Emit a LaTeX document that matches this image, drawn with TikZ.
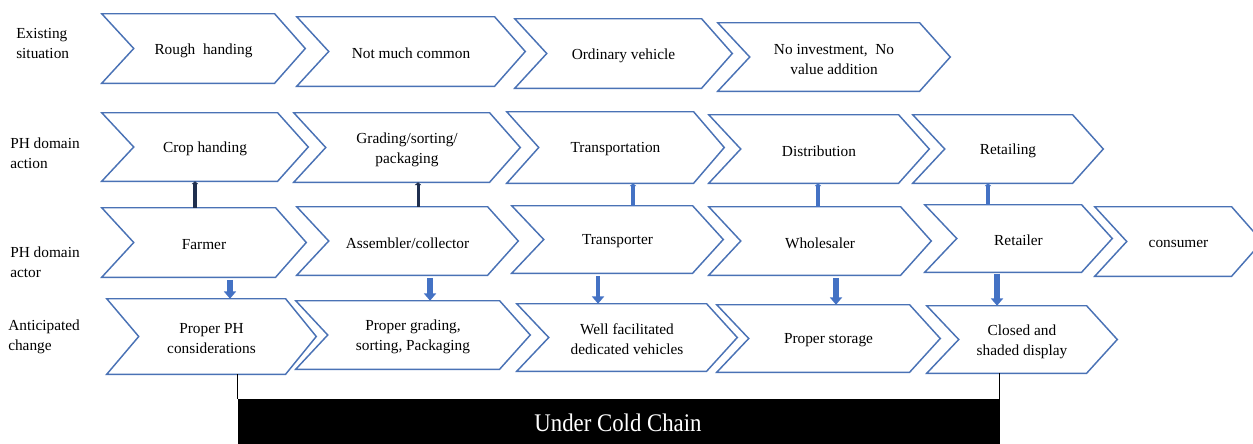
\documentclass[tikz,border=0pt]{standalone}
\usepackage{fontspec}
\usepackage{graphicx}
\setmainfont{Liberation Serif}
\usetikzlibrary{fit,arrows.meta}

\definecolor{chevblue}{HTML}{4A72B5}
\definecolor{arrowblue}{HTML}{4472C4}
\definecolor{navy}{HTML}{1F2F4F}

\tikzset{
  chevline/.style={draw=chevblue, line width=1.1pt, line join=miter},
  chevbox/.style={inner sep=0pt},
  chevtext/.style={inner sep=0pt, align=center, yshift=-1.5pt, font=\fontsize{11.5}{15}\selectfont},
  rowlabel/.style={anchor=west, align=left, inner sep=0pt, font=\fontsize{11.5}{15}\selectfont},
  uplink/.style={line width=#1, -{Triangle[width=5pt,length=2.2pt]}},
  downlink/.style={draw=arrowblue, line width=#1, -{Triangle[width=9pt,length=5.5pt]}},
  coldbox/.style={fill=black, draw=black, inner sep=0pt},
  coldtext/.style={text=white, inner sep=0pt, font=\fontsize{19}{22}\selectfont},
  bracket/.style={draw=black, line width=0.8pt}
}

% chevron: name, left x, top y, tip x, bottom y, text
\newcommand{\chevron}[6]{%
  \node[chevbox, fit={(#2,#3) (#4,#5)}] (#1) {};
  \node[chevtext] (#1-text) at (#1.center) {#6};
  \draw[chevline] (#1.north west) -- ([xshift=-23pt]#1.north east) -- (#1.east)
    -- ([xshift=-23pt]#1.south east) -- (#1.south west) -- ([xshift=24pt]#1.west) -- cycle;
}

\begin{document}
\begin{tikzpicture}[x=0.75pt, y=-0.75pt]
\useasboundingbox (0,0) rectangle (1253,443);
\clip (0,0) rectangle (1253,443);

% row labels
\node[rowlabel] (lab1) at (16,43) {Existing\\situation};
\node[rowlabel] (lab2) at (10,153) {PH domain\\action};
\node[rowlabel] (lab3) at (10,262) {PH domain\\actor};
\node[rowlabel] (lab4) at (8,337) {Anticipated\\change};

% existing situation
\chevron{e1}{102}{14}{305}{83}{Rough~~handing}
\chevron{e2}{297}{17}{525}{86}{Not much common}
\chevron{e3}{515}{19}{732}{88}{Ordinary vehicle}
\chevron{e4}{718}{23}{950}{91}{No investment,~~No\\value addition}

% PH domain action
\chevron{a1}{102}{113}{308}{181}{Crop handing}
\chevron{a2}{294}{113}{520}{182}{Grading/sorting/\\packaging}
\chevron{a3}{507}{112}{724}{183}{Transportation}
\chevron{a4}{709}{115}{929}{183}{Distribution}
\chevron{a5}{913}{115}{1103}{183}{Retailing}

% PH domain actor
\chevron{b1}{102}{208}{306}{277}{Farmer}
\chevron{b2}{297}{207}{518}{275}{Assembler/collector}
\chevron{b3}{512}{206}{723}{273}{Transporter}
\chevron{b4}{709}{207}{931}{275}{Wholesaler}
\chevron{b5}{925}{205}{1112}{272}{Retailer}
\chevron{b6}{1095}{207}{1262}{276}{consumer}

% anticipated change
\chevron{c1}{107}{299}{316}{374}{Proper PH\\considerations}
\chevron{c2}{296}{301}{530}{369}{Proper grading,\\sorting, Packaging}
\chevron{c3}{517}{304}{737}{371}{Well facilitated\\dedicated vehicles}
\chevron{c4}{717}{305}{940}{372}{Proper storage}
\chevron{c5}{927}{306}{1117}{373}{Closed and\\shaded display}

% actor -> action links
\coordinate (u1) at ([xshift=-6.75pt]b1.north);
\coordinate (u2) at ([xshift=7.9pt]b2.north);
\coordinate (u3) at ([xshift=11.6pt]b3.north);
\coordinate (u4) at ([xshift=-1.5pt]b4.north);
\coordinate (u5) at ([xshift=-22.9pt]b5.north);
\draw[uplink=2.8pt, draw=navy] (u1) -- (u1 |- a1.south);
\draw[uplink=2.2pt, draw=navy] (u2) -- (u2 |- a2.south);
\draw[uplink=2.6pt, draw=arrowblue] (u3) -- (u3 |- a3.south);
\draw[uplink=3.6pt, draw=arrowblue] (u4) -- (u4 |- a4.south);
\draw[uplink=3pt, draw=arrowblue] (u5) -- (u5 |- a5.south);

% actor -> anticipated change arrows
\coordinate (d1) at ([xshift=19.5pt, yshift=-2pt]b1.south);
\coordinate (d2) at ([xshift=16.9pt, yshift=-2pt]b2.south);
\coordinate (d3) at ([xshift=-14.6pt, yshift=-2pt]b3.south);
\coordinate (d4) at ([xshift=12pt, yshift=-2pt]b4.south);
\coordinate (d5) at ([xshift=-16.1pt, yshift=-1pt]b5.south);
\draw[downlink=4pt] (d1) -- (d1 |- c1.north);
\draw[downlink=4pt] (d2) -- (d2 |- c2.north);
\draw[downlink=3.2pt] (d3) -- (d3 |- c3.north);
\draw[downlink=4pt] (d4) -- (d4 |- c4.north);
\draw[downlink=4pt] (d5) -- (d5 |- c5.north);

% cold chain band and its bracket lines
\node[coldbox, fit={(238,399) (999,447)}] (cold) {};
\node[coldtext] (cold-text) at (618,423) {\scalebox{0.9}[1]{Under Cold Chain}};
\draw[bracket] (cold.north west) -- (cold.north west |- c1.south);
\draw[bracket] (cold.north east) -- (cold.north east |- c5.south);
\end{tikzpicture}
\end{document}
